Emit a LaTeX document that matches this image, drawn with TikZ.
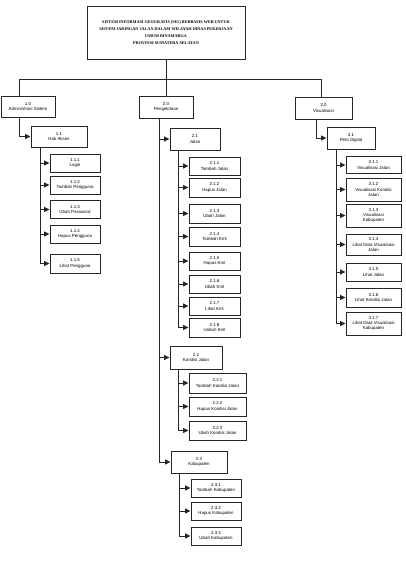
\documentclass[tikz,border=0pt]{standalone}
\usepackage{fontspec}
\setmainfont{Liberation Sans}
\newfontfamily\titlefont{Liberation Serif}
\usetikzlibrary{arrows.meta}
\newcommand\mybox[5]{\node[box,minimum width=#3pt,minimum height=#4pt] (#1) at (#2) {#5};}
\begin{document}
\begin{tikzpicture}[x=1pt,y=-1pt,
 box/.style={draw=black!85, line width=0.9pt, inner sep=0pt, align=center, font=\fontsize{4.4}{5.4}\selectfont},
 conn/.style={draw=black!85, line width=1pt},
 arr/.style={conn, -{Triangle[length=5.5pt,width=5pt]}}]
\useasboundingbox (0,0) rectangle (405,563);
\node[box, minimum width=158pt, minimum height=53pt, font=\titlefont\bfseries\fontsize{4.2}{7.2}\selectfont] (title) at (166,32.5)
 {SISTEM INFORMASI GEOGRAFIS (SIG) BERBASIS WEB UNTUK\\SISTEM JARINGAN JALAN DALAM WILAYAH DINAS PEKERJAAN\\UMUM BINAMARGA\\PROVINSI SUMATERA SELATAN};
% level 1
\mybox{n10}{28,106.5}{54}{21}{1.0\\Administrasi Sistem}
\mybox{n20}{166,107}{54}{22}{2.0\\Pengelolaan}
\mybox{n30}{323.5,108}{57}{22}{3.0\\Visualisasi}
% branch 1
\mybox{n11}{59,136.5}{56}{21}{1.1\\Hak Akses}
\mybox{n111}{75,163}{50}{18}{1.1.1\\Login}
\mybox{n112}{75,185}{50}{18}{1.1.2\\Tambah Pengguna}
\mybox{n113}{75,209.5}{50}{18}{1.1.3\\Ubah Password}
\mybox{n114}{75,234}{50}{18}{1.1.4\\Hapus Pengguna}
\mybox{n115}{75,263.5}{50}{19}{1.1.5\\Lihat Pengguna}
% branch 2
\mybox{n21}{195,139}{50}{22}{2.1\\Jalan}
\mybox{n211}{214.5,166}{51}{18}{2.1.1\\Tambah Jalan}
\mybox{n212}{214.5,187.5}{51}{19}{2.1.2\\Hapus Jalan}
\mybox{n213}{214.5,213.5}{51}{19}{2.1.3\\Ubah Jalan}
\mybox{n214}{214.5,236.5}{51}{19}{2.1.4\\Tambah Kml}
\mybox{n215}{214.5,261}{51}{18}{2.1.5\\Hapus Kml}
\mybox{n216}{214.5,284}{51}{18}{2.1.6\\Ubah Kml}
\mybox{n217}{214.5,306}{51}{18}{2.1.7\\Lihat Kml}
\mybox{n218}{214.5,327.5}{51}{19}{2.1.8\\Unduh Kml}
\mybox{n22}{196,357.5}{52}{23}{2.2\\Kondisi Jalan}
\mybox{n221}{217.5,383}{57}{20}{2.2.1\\Tambah Kondisi Jalan}
\mybox{n222}{217.5,406.5}{57}{19}{2.2.2\\Hapus Kondisi Jalan}
\mybox{n223}{217.5,430.5}{57}{19}{2.2.3\\Ubah Kondisi Jalan}
\mybox{n23}{199,462}{56}{22}{2.3\\Kabupaten}
\mybox{n231}{216,488}{50}{18}{2.3.1\\Tambah Kabupaten}
\mybox{n232}{216,511}{50}{18}{2.3.2\\Hapus Kabupaten}
\mybox{n233}{216,536}{50}{18}{2.3.3\\Ubah Kabupaten}
% branch 3
\mybox{n31}{351,138}{48}{22}{3.1\\Peta Digital}
\mybox{n311}{373.5,165}{55}{17}{3.1.1\\Visualisasi Jalan}
\mybox{n312}{373.5,189.5}{55}{23}{3.1.2\\Visualisasi Kondisi\\Jalan}
\mybox{n313}{373.5,215.5}{55}{23}{3.1.3\\Visualisasi\\Kabupaten}
\mybox{n314}{373.5,244.5}{55}{21}{3.1.4\\Lihat Data Visualisasi\\Jalan}
\mybox{n315}{373.5,272}{55}{18}{3.1.5\\Lihat Jalan}
\mybox{n316}{373.5,297.5}{55}{19}{3.1.6\\Lihat Kondisi Jalan}
\mybox{n317}{373.5,323.5}{55}{23}{3.1.7\\Lihat Data Visualisasi\\Kabupaten}
% top connectors
\coordinate (bar) at (166,79);
\coordinate (barL) at (19,79);
\coordinate (barR) at (321,79);
\draw[conn] (title.south) -- (bar);
\draw[conn] (barL) -- (barR);
\draw[conn] (barL) -- (n10.north -| barL);
\draw[conn] (bar) -- (n20.north);
\draw[conn] (barR) -- (n30.north -| barR);
% branch connectors
\draw[arr] (n10.south -| barL) |- (n11.west);
\coordinate (v11) at (40,147);
\foreach \c in {n111,n112,n113,n114,n115} \draw[arr] (v11) |- (\c.west);
\coordinate (v20) at (159,118);
\foreach \c in {n21,n22,n23} \draw[arr] (v20) |- (\c.west);
\coordinate (v21) at (178,150);
\foreach \c in {n211,n212,n213,n214,n215,n216,n217,n218} \draw[arr] (v21) |- (\c.west);
\coordinate (v22) at (178,369);
\foreach \c in {n221,n222,n223} \draw[arr] (v22) |- (\c.west);
\coordinate (v23) at (179,473);
\foreach \c in {n231,n232,n233} \draw[arr] (v23) |- (\c.west);
\coordinate (v30) at (316,119);
\draw[arr] (v30) |- (n31.west);
\coordinate (v31) at (336,149);
\foreach \c in {n311,n312,n313,n314,n315,n316,n317} \draw[arr] (v31) |- (\c.west);
\end{tikzpicture}
\end{document}
